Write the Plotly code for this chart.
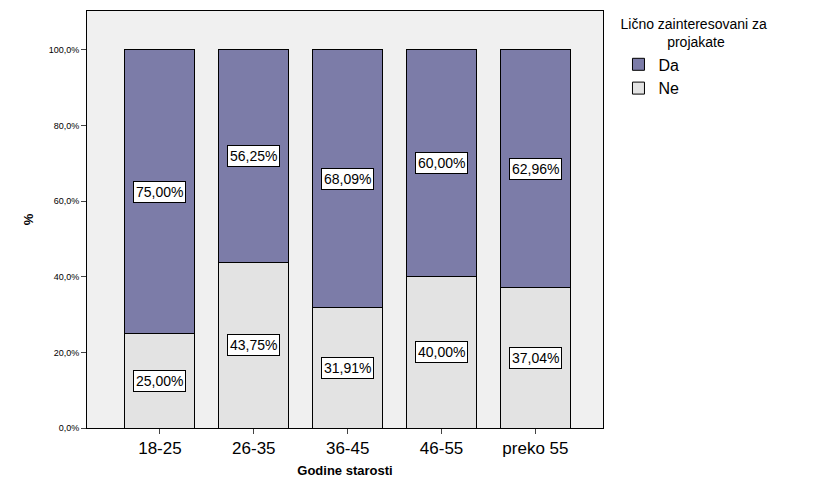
import plotly.graph_objects as go

categories = ["18-25", "26-35", "36-45", "46-55", "preko 55"]
da = [75.00, 56.25, 68.09, 60.00, 62.96]
ne = [25.00, 43.75, 31.91, 40.00, 37.04]
tick_vals = [0, 20, 40, 60, 80, 100]
tick_text = ["0,0%", "20,0%", "40,0%", "60,0%", "80,0%", "100,0%"]

def fmt(v):
    return f"{v:.2f}%".replace(".", ",")

fig = go.Figure()
fig.add_bar(x=categories, y=ne, name="Ne", marker=dict(color="#e3e3e3", line=dict(color="black", width=1)), width=0.745)
fig.add_bar(x=categories, y=da, name="Da", marker=dict(color="#7c7ca8", line=dict(color="black", width=1)), width=0.745)

for c, n, d in zip(categories, ne, da):
    fig.add_annotation(x=c, y=n / 2, text=fmt(n), showarrow=False, bgcolor="white",
                       bordercolor="black", borderwidth=1, borderpad=2, font=dict(size=14, color="black"))
    fig.add_annotation(x=c, y=n + d / 2, text=fmt(d), showarrow=False, bgcolor="white",
                       bordercolor="black", borderwidth=1, borderpad=2, font=dict(size=14, color="black"))

fig.update_layout(
    barmode="stack", width=815, height=504,
    font=dict(family="Arial, Liberation Sans", color="black"),
    paper_bgcolor="white", plot_bgcolor="#f0f0f0",
    margin=dict(l=79, r=220, t=3, b=84),
    bargap=0.255,
    legend=dict(x=1.03, y=1.0, xanchor="left", yanchor="top", traceorder="reversed",
                title=dict(text="Lično zainteresovani za<br>            projakate", font=dict(size=14)),
                font=dict(size=16)),
    xaxis=dict(range=[-0.777, 4.72], showline=True, linecolor="black", mirror=True,
               ticks="outside", ticklen=5, tickfont=dict(size=17),
               title=dict(text="<b>Godine starosti</b>", font=dict(size=13), standoff=8)),
    yaxis=dict(range=[0, 110.3], tickvals=tick_vals, ticktext=tick_text, showgrid=False,
               showline=True, linecolor="black", mirror=True, ticks="outside", ticklen=5,
               tickfont=dict(size=9), zeroline=False,
               title=dict(text="<b>%</b>", font=dict(size=13), standoff=12)),
)
fig.write_html("out.html")
